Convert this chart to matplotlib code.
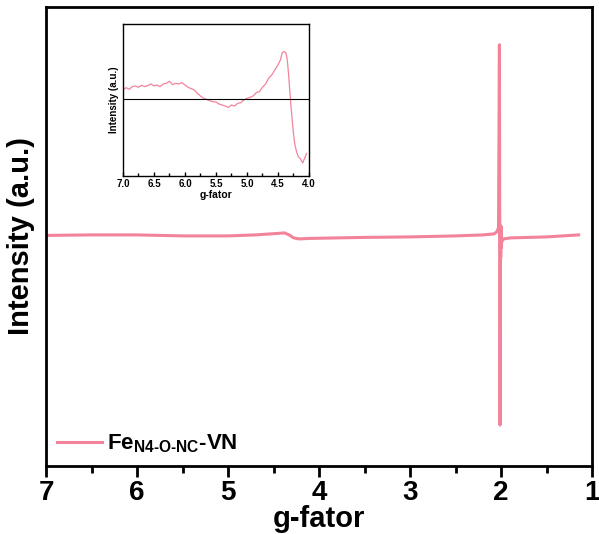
import matplotlib
matplotlib.use("Agg")
import matplotlib.pyplot as plt
import numpy as np

plt.rcParams['font.family'] = ['Liberation Sans', 'DejaVu Sans']
plt.rcParams['font.weight'] = 'bold'
plt.rcParams['mathtext.fontset'] = 'custom'
plt.rcParams['mathtext.rm'] = 'Liberation Sans:bold'
plt.rcParams['mathtext.bf'] = 'Liberation Sans:bold'
plt.rcParams['mathtext.it'] = 'Liberation Sans:bold'

# main spectrum (g value, intensity a.u.)
g_main = [7.0, 6.5, 6.0, 5.5, 5.0, 4.7, 4.45, 4.38, 4.33, 4.28, 4.22, 4.1,
          3.5, 3.0, 2.5, 2.2, 2.08, 2.05, 2.03, 2.02, 2.013, 2.009, 2.006,
          2.003, 2.0, 1.995, 1.985, 1.97, 1.9, 1.5, 1.15]
i_main = [0.5, 1, 1, 0, 0, 1, 2.5, 3, 1, -2, -3, -2.5,
          -1.5, -1, 0, 1, 2, 4, 8, 191, -189, 8, -22, 10,
          -12, -6, -4, -3, -2, -1, 1]

# inset: low field region
g_ins = [7.0, 6.95, 6.9, 6.85, 6.8, 6.75, 6.7, 6.65, 6.6, 6.55, 6.5, 6.45,
         6.4, 6.35, 6.3, 6.25, 6.2, 6.15, 6.1, 6.05, 6.0, 5.95, 5.9, 5.85,
         5.8, 5.75, 5.7, 5.65, 5.6, 5.55, 5.5, 5.45, 5.4, 5.35, 5.3, 5.25,
         5.2, 5.15, 5.1, 5.05, 5.0, 4.95, 4.9, 4.85, 4.8, 4.75, 4.7, 4.65,
         4.6, 4.55, 4.5, 4.46, 4.43, 4.4, 4.37, 4.35, 4.33, 4.31, 4.29, 4.27,
         4.25, 4.23, 4.2, 4.17, 4.14, 4.12, 4.1, 4.08, 4.06, 4.04]
i_ins = [28, 35, 30, 38, 40, 36, 42, 38, 41, 46, 40, 43,
         38, 46, 48, 54, 44, 48, 46, 50, 43, 36, 32, 28,
         18, 10, 3, 0, -4, -7, -8, -14, -17, -20, -24, -17,
         -20, -12, -10, -2, 3, 6, 10, 20, 23, 36, 46, 63,
         73, 88, 103, 118, 140, 143, 138, 118, 78, 28, -22, -62,
         -102, -132, -157, -172, -177, -184, -190, -180, -172, -162]

pink = '#F2839A'

fig = plt.figure(figsize=(5.99, 5.34), dpi=100)
ax = fig.add_axes([0.0768, 0.1273, 0.912, 0.86])
ax.plot(g_main, i_main, color=pink, lw=2.2, label=r'Fe$_{\text{N4-O-NC}}$-VN')
ax.set_xlim(7, 1)
ax.set_ylim(-230, 229)
ax.set_yticks([])
ax.set_xticks([7, 6, 5, 4, 3, 2, 1])
ax.set_xticks(np.arange(1.5, 7, 1), minor=True)
ax.tick_params(axis='x', which='major', labelsize=20, length=8, width=2,
               direction='out', pad=2)
ax.tick_params(axis='x', which='minor', length=5, width=2, direction='out')
for s in ax.spines.values():
    s.set_linewidth(2)
ax.set_xlabel('g-fator', fontsize=21, fontweight='bold', labelpad=-1)
ax.set_ylabel('Intensity (a.u.)', fontsize=21, fontweight='bold', labelpad=8)
ax.legend(loc='lower left', frameon=False, fontsize=16, handlelength=2.0,
          handletextpad=0.25, borderaxespad=0.1)

# inset
axi = fig.add_axes([0.2053, 0.6704, 0.3105, 0.2846])
axi.plot(g_ins, i_ins, color=pink, lw=0.9)
axi.axhline(0, color='black', lw=0.8)
axi.set_xlim(7, 4)
axi.set_ylim(-229, 225)
axi.set_yticks([])
axi.set_xticks([7.0, 6.5, 6.0, 5.5, 5.0, 4.5, 4.0])
axi.set_xticks(np.arange(4.25, 7, 0.5), minor=True)
axi.xaxis.set_major_formatter(plt.FormatStrFormatter('%.1f'))
axi.tick_params(axis='x', which='major', labelsize=7, length=3, width=1,
                direction='in', pad=2)
axi.tick_params(axis='x', which='minor', length=2, width=1, direction='in')
for s in axi.spines.values():
    s.set_linewidth(1)
axi.set_xlabel('g-fator', fontsize=7.5, fontweight='bold', labelpad=1)
axi.set_ylabel('Intensity (a.u.)', fontsize=7, fontweight='bold', labelpad=3)

fig.savefig('out.png', dpi=100)
